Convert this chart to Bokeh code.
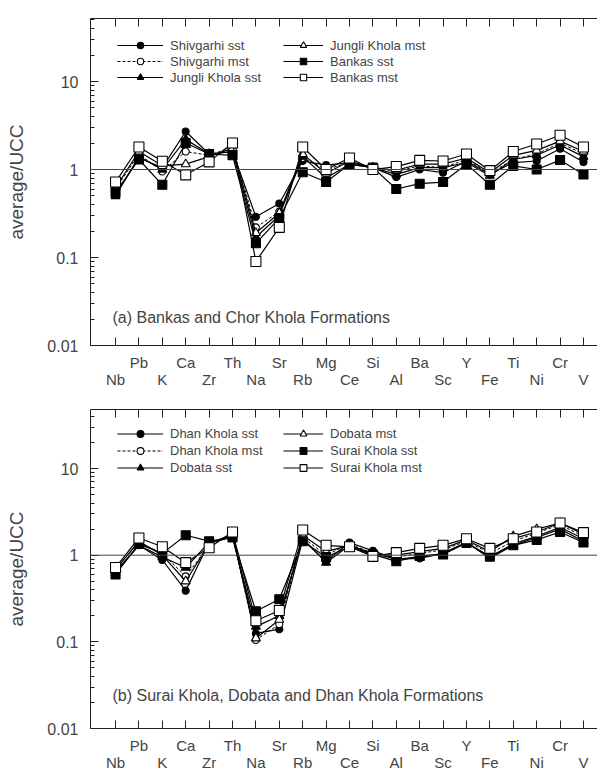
from bokeh.plotting import figure
from bokeh.models import (Range1d, LinearAxis, FixedTicker, LogTicker, Span, Label,
                          Legend, LegendItem, CustomJSTickFormatter)
from bokeh.layouts import column
from bokeh.embed import file_html
from bokeh.resources import INLINE

elements = ["Nb", "Pb", "K", "Ca", "Zr", "Th", "Na", "Sr", "Rb", "Mg", "Ce",
            "Si", "Al", "Ba", "Sc", "Y", "Fe", "Ti", "Ni", "Cr", "V"]

# Panel (a)
shivgarhi_sst = [0.52, 1.35, 1.05, 2.7, 1.5, 1.6, 0.29, 0.41, 1.25, 1.12, 1.2, 1.05, 0.82, 1.0, 0.92, 1.25, 0.88, 1.2, 1.25, 1.72, 1.22]
shivgarhi_mst = [0.60, 1.5, 0.95, 1.6, 1.45, 1.8, 0.22, 0.33, 1.35, 1.0, 1.2, 1.05, 0.95, 1.1, 1.05, 1.3, 0.9, 1.3, 1.5, 2.0, 1.5]
jungli_sst = [0.50, 1.4, 1.0, 2.2, 1.5, 1.6, 0.17, 0.30, 1.4, 0.8, 1.15, 1.05, 0.88, 1.05, 1.05, 1.2, 0.85, 1.3, 1.45, 1.9, 1.4]
jungli_mst = [0.62, 1.6, 1.1, 1.15, 1.4, 1.75, 0.19, 0.32, 1.5, 0.9, 1.25, 1.05, 0.98, 1.15, 1.15, 1.35, 0.92, 1.45, 1.65, 2.1, 1.6]
bankas_sst = [0.55, 1.3, 0.67, 2.0, 1.5, 1.45, 0.145, 0.28, 0.93, 0.72, 1.15, 1.05, 0.6, 0.69, 0.72, 1.15, 0.67, 1.1, 1.0, 1.28, 0.88]
bankas_mst = [0.72, 1.8, 1.24, 0.87, 1.22, 2.0, 0.09, 0.22, 1.8, 1.0, 1.35, 1.0, 1.08, 1.27, 1.25, 1.5, 0.97, 1.6, 1.95, 2.45, 1.8]

# Panel (b)
dhan_sst = [0.65, 1.3, 0.88, 0.39, 1.4, 1.65, 0.125, 0.14, 1.5, 0.85, 1.4, 1.12, 0.9, 0.92, 1.05, 1.4, 0.95, 1.35, 1.65, 2.1, 1.55]
dhan_mst = [0.70, 1.4, 1.05, 0.57, 1.3, 1.7, 0.105, 0.16, 1.6, 1.0, 1.35, 1.05, 0.95, 1.05, 1.15, 1.45, 1.05, 1.45, 1.8, 2.25, 1.65]
dobata_sst = [0.63, 1.3, 0.95, 0.72, 1.4, 1.6, 0.15, 0.2, 1.55, 0.82, 1.3, 1.05, 0.9, 0.95, 1.05, 1.4, 0.92, 1.3, 1.6, 2.0, 1.45]
dobata_mst = [0.68, 1.45, 1.0, 0.5, 1.35, 1.75, 0.11, 0.18, 1.7, 1.1, 1.3, 1.0, 1.0, 1.1, 1.2, 1.5, 1.1, 1.65, 2.0, 2.35, 1.75]
surai_sst = [0.60, 1.35, 1.05, 1.7, 1.45, 1.6, 0.225, 0.31, 1.45, 0.95, 1.25, 1.02, 0.85, 0.98, 1.02, 1.38, 0.97, 1.3, 1.5, 1.85, 1.4]
surai_mst = [0.72, 1.58, 1.25, 0.82, 1.22, 1.85, 0.175, 0.23, 1.95, 1.3, 1.25, 0.97, 1.07, 1.2, 1.3, 1.55, 1.2, 1.55, 1.85, 2.35, 1.82]

FONT = "Liberation Sans"
xs = list(range(len(elements)))

# (name, values, marker, filled, dashed)
series_a = [
    ("Shivgarhi sst", shivgarhi_sst, "circle", True, False),
    ("Shivgarhi mst", shivgarhi_mst, "circle", False, True),
    ("Jungli Khola sst", jungli_sst, "triangle", True, False),
    ("Jungli Khola mst", jungli_mst, "triangle", False, False),
    ("Bankas sst", bankas_sst, "square", True, False),
    ("Bankas mst", bankas_mst, "square", False, False),
]
series_b = [
    ("Dhan Khola sst", dhan_sst, "circle", True, False),
    ("Dhan Khola mst", dhan_mst, "circle", False, True),
    ("Dobata sst", dobata_sst, "triangle", True, False),
    ("Dobata mst", dobata_mst, "triangle", False, False),
    ("Surai Khola sst", surai_sst, "square", True, False),
    ("Surai Khola mst", surai_mst, "square", False, False),
]

SIZES = {"circle": 7, "triangle": 9, "square": 9}


def make_panel(series, ymax, note, note_y, height, border_top, border_bottom, leg_y, row_h):
    p = figure(width=597, height=height, y_axis_type="log",
               x_range=Range1d(-1.07, 20.6), y_range=Range1d(0.01, ymax),
               output_backend="svg", toolbar_location=None,
               min_border_left=90, min_border_right=0,
               min_border_top=border_top, min_border_bottom=border_bottom)
    p.outline_line_color = None
    p.grid.visible = False
    p.background_fill_color = "white"

    # y axis
    ya = p.yaxis[0]
    ya.ticker = LogTicker(num_minor_ticks=10)
    ya.formatter = CustomJSTickFormatter(code="return String(Number(tick.toPrecision(6)));")
    ya.major_tick_in = 8
    ya.major_tick_out = 0
    ya.minor_tick_in = 4
    ya.minor_tick_out = 0
    ya.major_label_standoff = 12
    ya.major_label_text_font = FONT
    ya.major_label_text_font_size = "16px"
    ya.axis_label = "average/UCC"
    ya.axis_label_text_font = FONT
    ya.axis_label_text_font_size = "19px"
    ya.axis_label_text_font_style = "normal"
    ya.axis_label_standoff = 17
    ya.axis_line_color = "#222"
    ya.major_tick_line_color = "#222"
    ya.minor_tick_line_color = "#222"

    # x axis: two staggered rows of element labels (odd upper, even lower)
    xa = p.xaxis[0]
    xa.ticker = FixedTicker(ticks=xs)
    xa.major_label_overrides = {i: (elements[i] if i % 2 == 1 else "\n" + elements[i]) for i in xs}
    xa.major_tick_in = 8
    xa.major_tick_out = 0
    xa.minor_tick_line_color = None
    xa.major_label_standoff = 8
    xa.major_label_text_font = FONT
    xa.major_label_text_font_size = "15px"
    xa.major_label_text_line_height = 1.05
    xa.axis_line_color = "#222"
    xa.major_tick_line_color = "#222"

    # top axis with ticks only
    xt = LinearAxis(ticker=FixedTicker(ticks=xs))
    xt.major_label_overrides = {i: "" for i in xs}
    xt.major_label_text_font_size = "1px"
    xt.major_label_standoff = 0
    xt.major_tick_in = 8
    xt.major_tick_out = 0
    xt.minor_tick_line_color = None
    xt.axis_line_color = "#222"
    xt.major_tick_line_color = "#222"
    p.add_layout(xt, "above")

    p.add_layout(Span(location=1, dimension="width", line_color="#444", line_width=1))

    items = []
    for name, vals, marker, filled, dashed in series:
        ln = p.line(xs, vals, line_color="black", line_width=1.2 if not dashed else 1.0,
                    line_dash="3 2" if dashed else "solid")
        size = SIZES[marker] + (1 if (marker == "square" and not filled) else 0)
        sc = p.scatter(xs, vals, marker=marker, size=size, line_color="black", line_width=1.1,
                       fill_color="black" if filled else "white")
        items.append(LegendItem(label=name, renderers=[ln, sc]))

    for items_part, x0, gw in [(items[:3], 27, 46), (items[3:], 193, 40)]:
        leg = Legend(items=items_part, location=(x0, leg_y), orientation="vertical",
                     glyph_width=gw, glyph_height=row_h, label_height=row_h, spacing=0,
                     padding=0, margin=0, label_standoff=7,
                     label_text_font=FONT, label_text_font_size="13px",
                     border_line_color=None, background_fill_alpha=0)
        p.add_layout(leg)

    p.add_layout(Label(x=-0.13, y=note_y, text=note, text_font=FONT, text_font_size="16px",
                       text_baseline="middle", text_align="left"))
    return p


pa = make_panel(series_a, 52, "(a) Bankas and Chor Khola Formations", 0.021,
                height=391, border_top=18, border_bottom=40, leg_y=260, row_h=16)
pb = make_panel(series_b, 48, "(b) Surai Khola, Dobata and Dhan Khola Formations", 0.024,
                height=383, border_top=18, border_bottom=40, leg_y=252, row_h=17)

layout = column(pa, pb, spacing=0)
open("out.html", "w").write(file_html(layout, INLINE))
